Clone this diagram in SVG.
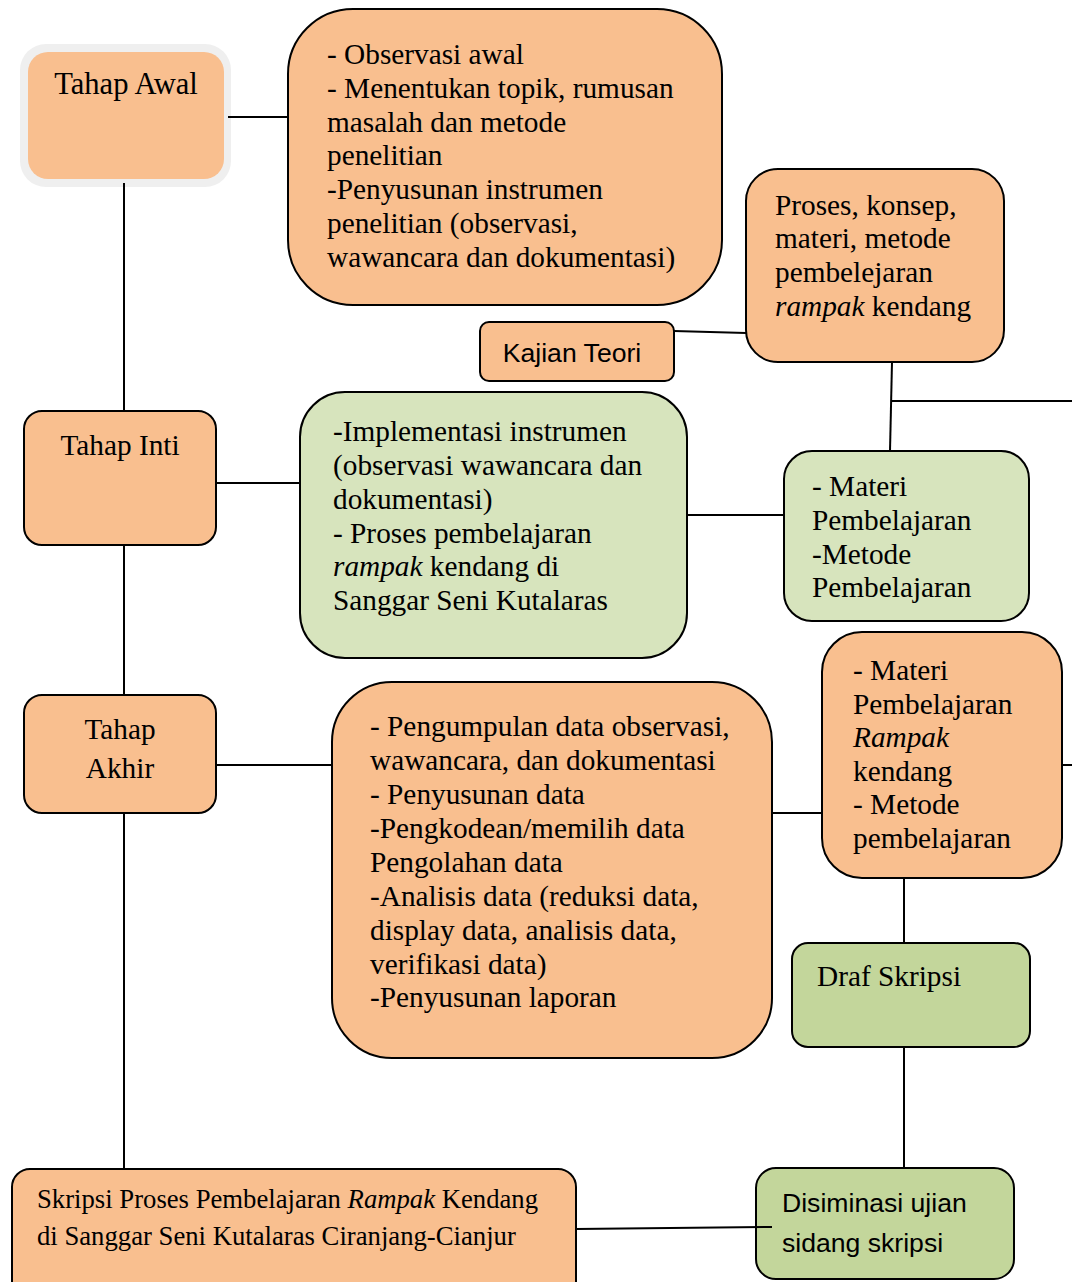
<svg xmlns="http://www.w3.org/2000/svg" width="1072" height="1282" viewBox="0 0 1072 1282">
<style>
.o{fill:#f9bf8f;stroke:#000;stroke-width:2}
.g{fill:#d7e4bd;stroke:#000;stroke-width:2}
.g2{fill:#c3d69b;stroke:#000;stroke-width:2}
.t{font-family:"Liberation Serif","Times New Roman",serif;font-size:29.3px;fill:#000}
.t.big{font-size:30.6px}
.t.sm{font-size:26.7px}
.s{font-family:"Liberation Sans",Arial,sans-serif;font-size:26.6px;fill:#000}
.c{text-anchor:middle}
.ln{stroke:#000;stroke-width:2;fill:none}
</style>
<rect width="1072" height="1282" fill="#fff"/>
<g id="tahap-awal">
<rect x="20" y="44" width="211" height="143" rx="26" fill="#efefef"/>
<rect x="28" y="52" width="196" height="127" rx="20" fill="#f9bf8f"/>
<text class="t big c" x="126" y="94">Tahap Awal</text>
</g>
<g id="awal-detail">
<rect class="o" x="288" y="9" width="434" height="296" rx="65"/>
<text class="t" x="327" y="64">- Observasi awal</text>
<text class="t" x="327" y="98">- Menentukan topik, rumusan</text>
<text class="t" x="327" y="132">masalah dan metode</text>
<text class="t" x="327" y="165">penelitian</text>
<text class="t" x="327" y="199">-Penyusunan instrumen</text>
<text class="t" x="327" y="233">penelitian (observasi,</text>
<text class="t" x="327" y="267">wawancara dan dokumentasi)</text>
</g>
<g id="proses-konsep">
<rect class="o" x="746" y="169" width="258" height="193" rx="32"/>
<text class="t" x="775" y="215">Proses, konsep,</text>
<text class="t" x="775" y="248">materi, metode</text>
<text class="t" x="775" y="282">pembelejaran</text>
<text class="t" x="775" y="316"><tspan font-style="italic">rampak</tspan> kendang</text>
</g>
<g id="kajian-teori">
<rect class="o" x="480" y="322" width="194" height="59" rx="9"/>
<text class="s c" x="572" y="362">Kajian Teori</text>
</g>
<g id="tahap-inti">
<rect class="o" x="24" y="411" width="192" height="134" rx="18"/>
<text class="t c" x="120" y="455">Tahap Inti</text>
</g>
<g id="inti-detail">
<rect class="g" x="300" y="392" width="387" height="266" rx="45"/>
<text class="t" x="333" y="441">-Implementasi instrumen</text>
<text class="t" x="333" y="475">(observasi wawancara dan</text>
<text class="t" x="333" y="509">dokumentasi)</text>
<text class="t" x="333" y="543">- Proses pembelajaran</text>
<text class="t" x="333" y="576"><tspan font-style="italic">rampak</tspan> kendang di</text>
<text class="t" x="333" y="610">Sanggar Seni Kutalaras</text>
</g>
<g id="materi-metode">
<rect class="g" x="784" y="451" width="245" height="170" rx="28"/>
<text class="t" x="812" y="496">- Materi</text>
<text class="t" x="812" y="530">Pembelajaran</text>
<text class="t" x="812" y="564">-Metode</text>
<text class="t" x="812" y="597">Pembelajaran</text>
</g>
<g id="tahap-akhir">
<rect class="o" x="24" y="695" width="192" height="118" rx="18"/>
<text class="t c" x="120" y="739">Tahap</text>
<text class="t c" x="120" y="778">Akhir</text>
</g>
<g id="akhir-detail">
<rect class="o" x="332" y="682" width="440" height="376" rx="60"/>
<text class="t" x="370" y="736">- Pengumpulan data observasi,</text>
<text class="t" x="370" y="770">wawancara, dan dokumentasi</text>
<text class="t" x="370" y="804">- Penyusunan data</text>
<text class="t" x="370" y="838">-Pengkodean/memilih data</text>
<text class="t" x="370" y="872">Pengolahan data</text>
<text class="t" x="370" y="906">-Analisis data (reduksi data,</text>
<text class="t" x="370" y="940">display data, analisis data,</text>
<text class="t" x="370" y="974">verifikasi data)</text>
<text class="t" x="370" y="1007">-Penyusunan laporan</text>
</g>
<g id="materi-rampak">
<rect class="o" x="822" y="632" width="240" height="246" rx="40"/>
<text class="t" x="853" y="680">- Materi</text>
<text class="t" x="853" y="714">Pembelajaran</text>
<text class="t" x="853" y="747" font-style="italic">Rampak</text>
<text class="t" x="853" y="781">kendang</text>
<text class="t" x="853" y="814">- Metode</text>
<text class="t" x="853" y="848">pembelajaran</text>
</g>
<g id="draf-skripsi">
<rect class="g2" x="792" y="943" width="238" height="104" rx="16"/>
<text class="t" x="817" y="986">Draf Skripsi</text>
</g>
<g id="skripsi">
<rect class="o" x="12" y="1169" width="564" height="130" rx="18"/>
<text class="t sm" x="37" y="1208">Skripsi Proses Pembelajaran <tspan font-style="italic">Rampak</tspan> Kendang</text>
<text class="t sm" x="37" y="1245">di Sanggar Seni Kutalaras Ciranjang-Cianjur</text>
</g>
<g id="disiminasi">
<rect class="g2" x="756" y="1168" width="258" height="111" rx="20"/>
<text class="s" x="782" y="1212">Disiminasi ujian</text>
<text class="s" x="782" y="1252">sidang skripsi</text>
</g>
<g id="connectors">
<line class="ln" x1="228" y1="117" x2="288" y2="117"/>
<line class="ln" x1="124" y1="183" x2="124" y2="411"/>
<line class="ln" x1="124" y1="545" x2="124" y2="695"/>
<line class="ln" x1="124" y1="813" x2="124" y2="1169"/>
<line class="ln" x1="216" y1="483" x2="300" y2="483"/>
<line class="ln" x1="216" y1="765" x2="332" y2="765"/>
<line class="ln" x1="674" y1="331" x2="746" y2="333"/>
<line class="ln" x1="892" y1="362" x2="890" y2="451"/>
<line class="ln" x1="891" y1="401" x2="1072" y2="401"/>
<line class="ln" x1="687" y1="515" x2="784" y2="515"/>
<line class="ln" x1="772" y1="813" x2="822" y2="813"/>
<line class="ln" x1="1062" y1="765" x2="1072" y2="765"/>
<line class="ln" x1="904" y1="878" x2="904" y2="943"/>
<line class="ln" x1="904" y1="1047" x2="904" y2="1168"/>
<line class="ln" x1="576" y1="1229" x2="772" y2="1227"/>
</g>
</svg>
